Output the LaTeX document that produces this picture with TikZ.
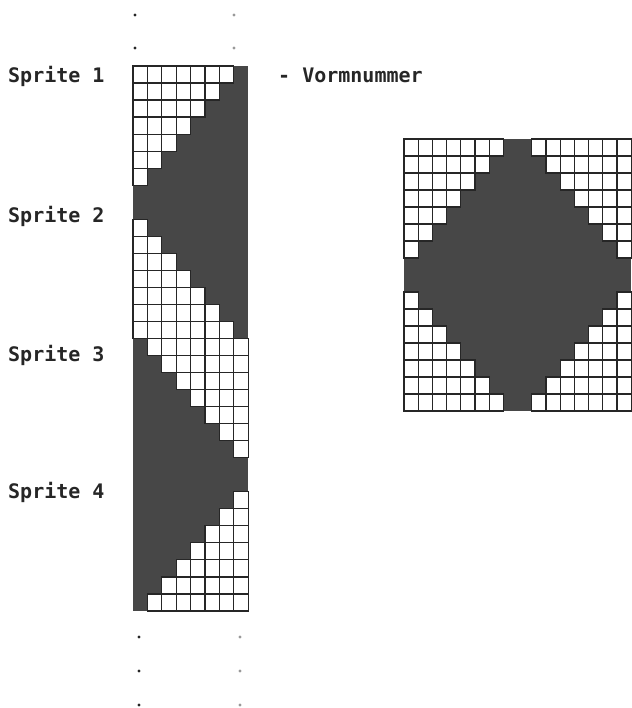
\documentclass[tikz,border=0pt]{standalone}
\usepackage{fontspec}
\newfontfamily\spritefont{DejaVu Sans Mono}
\definecolor{pixdark}{HTML}{474747}
\tikzset{
  pixcell/.style={fill=white,draw=black!85,line width=1.2pt},
  spritelabel/.style={anchor=base west,inner sep=0pt,font=\spritefont\bfseries\fontsize{20}{20}\selectfont,text=black!85},
  rowdot/.style={circle,fill=black!85,inner sep=0pt,minimum size=3.2pt},
  rowdotgray/.style={rowdot,fill=black!40}
}

\begin{document}
\begin{tikzpicture}[x=1pt,y=-1pt]
\useasboundingbox (0,0) rectangle (631,708);
% labels
\node[spritelabel] (s1) at (8,83) {Sprite 1};
\node[spritelabel] (s2) at (8,223) {Sprite 2};
\node[spritelabel] (s3) at (8,361) {Sprite 3};
\node[spritelabel] (s4) at (8,498) {Sprite 4};
\node[spritelabel] (vn) at (278,83) {- Vormnummer};
% dots above and below the column
\node[rowdot] (d1) at (135,15) {};
\node[rowdot] (d2) at (135,48) {};
\node[rowdotgray] (d3) at (234,15) {};
\node[rowdotgray] (d4) at (234,48) {};
\node[rowdot] (d5) at (139,637) {};
\node[rowdot] (d6) at (139,671) {};
\node[rowdot] (d7) at (139,705) {};
\node[rowdotgray] (d8) at (240,637) {};
\node[rowdotgray] (d9) at (240,671) {};
\node[rowdotgray] (d10) at (240,705) {};
% column of four sprites, 8 x 32
\begin{scope}[shift={(133pt,-66pt)},x=14.4pt,y=-17.03pt]
\fill[pixdark] (0,0) rectangle (8,32);
\foreach \r in {0,...,6}{
  \pgfmathtruncatemacro\m{6-\r}
  \foreach \c in {0,...,\m}{\draw[pixcell] (\c,\r) rectangle ++(1,1);}
}
\foreach \k in {1,...,7}{
  \pgfmathtruncatemacro\m{\k-1}
  \foreach \c in {0,...,\m}{\draw[pixcell] (\c,8+\k) rectangle ++(1,1);}
}
\foreach \k in {0,...,6}{
  \pgfmathtruncatemacro\m{\k+1}
  \foreach \c in {\m,...,7}{\draw[pixcell] (\c,16+\k) rectangle ++(1,1);}
}
\foreach \k in {1,...,7}{
  \pgfmathtruncatemacro\m{8-\k}
  \foreach \c in {\m,...,7}{\draw[pixcell] (\c,24+\k) rectangle ++(1,1);}
}
\end{scope}
% assembled sprite, 16 x 16
\begin{scope}[shift={(404pt,-139pt)},x=14.2pt,y=-17.0pt]
\fill[pixdark] (0,0) rectangle (16,16);
\foreach \r in {0,...,6}{
  \pgfmathtruncatemacro\m{6-\r}
  \pgfmathtruncatemacro\n{9+\r}
  \foreach \c in {0,...,\m}{\draw[pixcell] (\c,\r) rectangle ++(1,1);}
  \foreach \c in {\n,...,15}{\draw[pixcell] (\c,\r) rectangle ++(1,1);}
}
\foreach \k in {1,...,7}{
  \pgfmathtruncatemacro\m{\k-1}
  \pgfmathtruncatemacro\n{16-\k}
  \foreach \c in {0,...,\m}{\draw[pixcell] (\c,8+\k) rectangle ++(1,1);}
  \foreach \c in {\n,...,15}{\draw[pixcell] (\c,8+\k) rectangle ++(1,1);}
}
\end{scope}
\end{tikzpicture}
\end{document}
